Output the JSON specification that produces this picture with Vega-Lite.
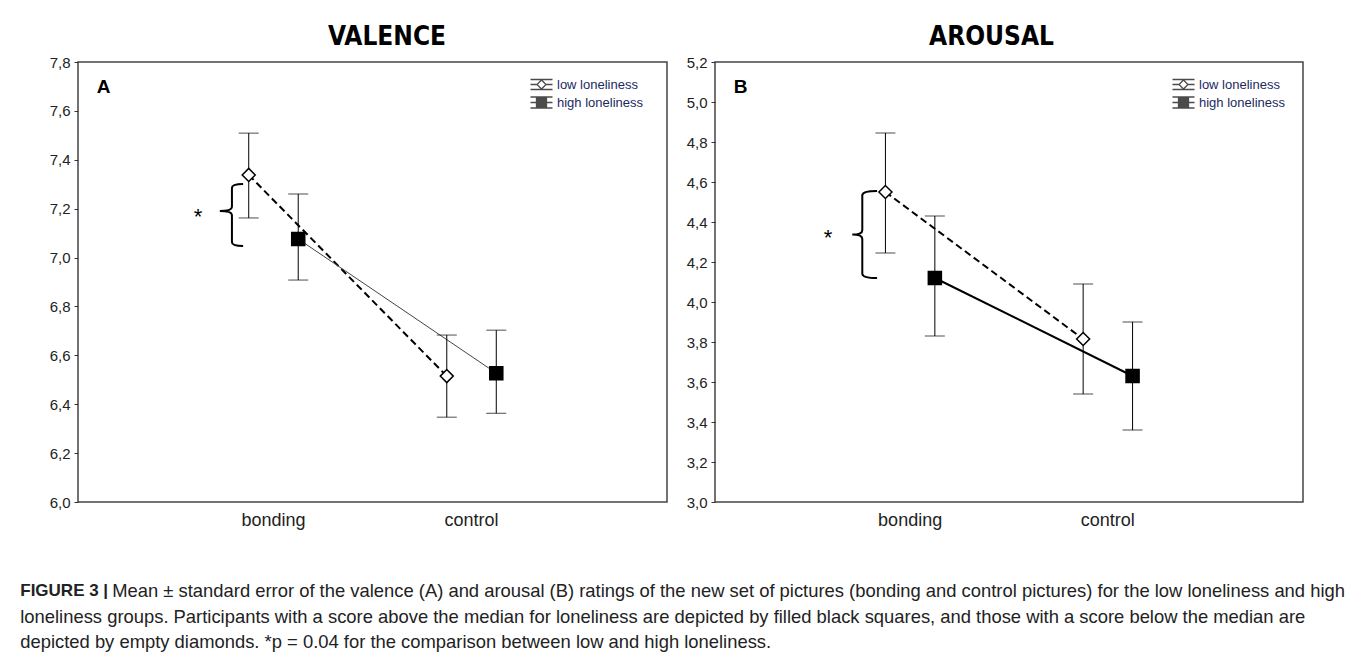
{
  "$schema": "https://vega.github.io/schema/vega-lite/v6.json",
  "padding": {"left": 8, "top": 23, "right": 0, "bottom": 0},
  "background": "white",
  "config": {
    "font": "Liberation Sans",
    "view": {"stroke": "#444", "strokeWidth": 1.5},
    "axis": {"grid": false, "domain": false, "labelFont": "Liberation Sans", "labelColor": "#222"},
    "axisY": {"labelExpr": "replace(format(datum.value, '.1f'), '.', ',')", "labelFontSize": 15, "tickSize": 4, "tickColor": "#333", "labelPadding": 4, "titleAngle": 0, "titleAlign": "center", "titleBaseline": "middle", "titleFontSize": 19, "titleFontWeight": "bold", "titleColor": "black", "titleX": 25, "titleY": 24},
    "axisX": {"labelFontSize": 18, "ticks": false, "labelPadding": 9, "labelAngle": 0},
    "legend": {"orient": "none", "title": null, "padding": 0, "symbolSize": 100, "labelFontSize": 13, "labelColor": "#1b2a5e", "labelOffset": 9, "rowPadding": 1, "symbolStrokeWidth": 1.3},
    "title": {"font": "DejaVu Sans Condensed", "fontSize": 26, "fontWeight": "bold", "color": "black", "baseline": "alphabetic", "offset": 5, "frame": "group"}
  },
  "datasets": {
    "means": [
      {"panel": "A", "cond": "bonding", "group": "low loneliness", "mean": 7.338, "lo": 7.162, "hi": 7.509},
      {"panel": "A", "cond": "bonding", "group": "high loneliness", "mean": 7.076, "lo": 6.908, "hi": 7.26},
      {"panel": "A", "cond": "control", "group": "low loneliness", "mean": 6.515, "lo": 6.347, "hi": 6.683},
      {"panel": "A", "cond": "control", "group": "high loneliness", "mean": 6.527, "lo": 6.363, "hi": 6.703},
      {"panel": "B", "cond": "bonding", "group": "low loneliness", "mean": 4.55, "lo": 4.245, "hi": 4.845},
      {"panel": "B", "cond": "bonding", "group": "high loneliness", "mean": 4.12, "lo": 3.83, "hi": 4.43},
      {"panel": "B", "cond": "control", "group": "low loneliness", "mean": 3.815, "lo": 3.54, "hi": 4.09},
      {"panel": "B", "cond": "control", "group": "high loneliness", "mean": 3.63, "lo": 3.36, "hi": 3.9}
    ],
    "notes": [
      {"panel": "A", "cond": "bonding", "brace": 7.174, "star": 7.186},
      {"panel": "B", "cond": "bonding", "brace": 4.3375, "star": 4.345}
    ]
  },
  "title": {
    "text": "FIGURE 3 |",
    "subtitle": [
      "\u200b\u00a0\u00a0\u00a0\u00a0\u00a0\u00a0\u00a0\u00a0\u00a0\u00a0\u00a0\u00a0\u00a0\u00a0\u00a0\u00a0\u00a0\u00a0Mean ± standard error of the valence (A) and arousal (B) ratings of the new set of pictures (bonding and control pictures) for the low loneliness and high",
      "loneliness groups. Participants with a score above the median for loneliness are depicted by filled black squares, and those with a score below the median are",
      "depicted by empty diamonds. *p = 0.04 for the comparison between low and high loneliness."
    ],
    "orient": "bottom",
    "anchor": "start",
    "frame": "bounds",
    "dx": 12,
    "offset": 53,
    "font": "Liberation Sans",
    "fontSize": 17,
    "fontWeight": "bold",
    "lineHeight": 25.5,
    "color": "#222",
    "baseline": "top",
    "subtitleFont": "Liberation Sans",
    "subtitleFontSize": 18.4,
    "subtitleColor": "#222",
    "subtitleLineHeight": 25.5,
    "subtitlePadding": -17.7
  },
  "spacing": 2,
  "resolve": {
    "scale": {"x": "independent", "y": "independent", "xOffset": "independent", "shape": "independent"},
    "legend": {"shape": "independent"}
  },
  "hconcat": [
    {
      "width": 589,
      "height": 440,
      "title": {"text": "VALENCE", "dx": 14.5},
      "encoding": {
        "x": {"field": "cond", "type": "nominal", "scale": {"type": "band", "domain": ["bonding", "control"], "paddingInner": 0, "paddingOuter": 0.487}, "axis": {"title": null}}
      },
      "layer": [
        {
          "data": {"name": "means"},
          "transform": [{"filter": "datum.panel === 'A'"}],
          "encoding": {
            "xOffset": {"field": "group", "type": "nominal", "scale": {"domain": ["low loneliness", "high loneliness"], "paddingInner": 0, "paddingOuter": 2.19}}
          },
          "layer": [
            {
              "transform": [{"filter": "datum.group === 'low loneliness'"}],
              "mark": {"type": "line", "color": "black", "strokeWidth": 2, "strokeDash": [7, 4]},
              "encoding": {
                "y": {"field": "mean", "type": "quantitative", "scale": {"domain": [6, 7.8], "nice": false, "zero": false}, "axis": {"title": "A", "tickCount": 10, "minExtent": 69, "maxExtent": 69}}
              }
            },
            {
              "transform": [{"filter": "datum.group === 'high loneliness'"}],
              "mark": {"type": "line", "color": "#444", "strokeWidth": 1},
              "encoding": {
                "y": {"field": "mean", "type": "quantitative", "axis": {"title": "A", "tickCount": 10, "minExtent": 69, "maxExtent": 69}}
              }
            },
            {
              "mark": {"type": "rule", "color": "black", "strokeWidth": 1},
              "encoding": {
                "y": {"field": "lo", "type": "quantitative", "axis": {"title": "A", "tickCount": 10, "minExtent": 69, "maxExtent": 69}},
                "y2": {"field": "hi"}
              }
            },
            {
              "mark": {"type": "tick", "color": "black", "size": 20, "thickness": 1},
              "encoding": {
                "y": {"field": "lo", "type": "quantitative", "axis": {"title": "A", "tickCount": 10, "minExtent": 69, "maxExtent": 69}}
              }
            },
            {
              "mark": {"type": "tick", "color": "black", "size": 20, "thickness": 1},
              "encoding": {
                "y": {"field": "hi", "type": "quantitative", "axis": {"title": "A", "tickCount": 10, "minExtent": 69, "maxExtent": 69}}
              }
            },
            {
              "transform": [{"filter": "datum.group === 'low loneliness'"}],
              "mark": {"type": "point", "shape": "diamond", "filled": true, "fill": "white", "stroke": "black", "strokeWidth": 1.5, "opacity": 1, "size": 170},
              "encoding": {
                "y": {"field": "mean", "type": "quantitative", "axis": {"title": "A", "tickCount": 10, "minExtent": 69, "maxExtent": 69}}
              }
            },
            {
              "transform": [{"filter": "datum.group === 'high loneliness'"}],
              "mark": {"type": "point", "shape": "square", "filled": true, "fill": "black", "stroke": "black", "strokeWidth": 1.5, "opacity": 1, "size": 170},
              "encoding": {
                "y": {"field": "mean", "type": "quantitative", "axis": {"title": "A", "tickCount": 10, "minExtent": 69, "maxExtent": 69}}
              }
            },
            {
              "mark": {"type": "point", "filled": false, "color": "black", "strokeWidth": 1.3, "size": 0},
              "encoding": {
                "y": {"field": "mean", "type": "quantitative", "axis": {"title": "A", "tickCount": 10, "minExtent": 69, "maxExtent": 69}},
                "shape": {"field": "group", "type": "nominal", "scale": {"domain": ["low loneliness", "high loneliness"], "range": ["M-2.2,-1L2.2,-1M-2.2,1L2.2,1M-2.2,0L-0.9,0M0.9,0L2.2,0M0,-0.9L0.9,0L0,0.9L-0.9,0Z", "M-2.2,-1.1L2.2,-1.1M-2.2,1.1L2.2,1.1M-2.2,0L2.2,0M-1,-1L1,-1M-1,-0.9L1,-0.9M-1,-0.8L1,-0.8M-1,-0.7L1,-0.7M-1,-0.6L1,-0.6M-1,-0.5L1,-0.5M-1,-0.4L1,-0.4M-1,-0.3L1,-0.3M-1,-0.2L1,-0.2M-1,-0.1L1,-0.1M-1,0.1L1,0.1M-1,0.2L1,0.2M-1,0.3L1,0.3M-1,0.4L1,0.4M-1,0.5L1,0.5M-1,0.6L1,0.6M-1,0.7L1,0.7M-1,0.8L1,0.8M-1,0.9L1,0.9M-1,1L1,1M-1,-1L-1,1M1,-1L1,1M-0.5,-1L-0.5,1M0,-1L0,1M0.5,-1L0.5,1"]},
                  "legend": {"legendX": 457, "legendY": 16}}
              }
            }
          ]
        },
        {
          "data": {"name": "notes"},
          "transform": [{"filter": "datum.panel === 'A'"}],
          "layer": [
            {
              "mark": {"type": "point", "shape": "M-0.98,-1 Q-1.34,-1 -1.34,-0.88 L-1.34,-0.26 Q-1.34,-0.13 -1.73,-0.13 Q-1.34,-0.13 -1.34,0 L-1.34,0.88 Q-1.34,1 -0.98,1", "size": 3844, "filled": false, "stroke": "black", "strokeWidth": 2, "opacity": 1},
              "encoding": {
                "y": {"field": "brace", "type": "quantitative", "axis": {"title": "A", "tickCount": 10, "minExtent": 69, "maxExtent": 69}}
              }
            },
            {
              "mark": {"type": "text", "text": "*", "fontSize": 22, "dx": -75.5, "dy": 5, "color": "black"},
              "encoding": {
                "y": {"field": "star", "type": "quantitative", "axis": {"title": "A", "tickCount": 10, "minExtent": 69, "maxExtent": 69}}
              }
            }
          ]
        }
      ]
    },
    {
      "width": 588,
      "height": 440,
      "title": {"text": "AROUSAL", "dx": -17.5},
      "encoding": {
        "x": {"field": "cond", "type": "nominal", "scale": {"type": "band", "domain": ["bonding", "control"], "paddingInner": 0, "paddingOuter": 0.487}, "axis": {"title": null}}
      },
      "layer": [
        {
          "data": {"name": "means"},
          "transform": [{"filter": "datum.panel === 'B'"}],
          "encoding": {
            "xOffset": {"field": "group", "type": "nominal", "scale": {"domain": ["low loneliness", "high loneliness"], "paddingInner": 0, "paddingOuter": 2.19}}
          },
          "layer": [
            {
              "transform": [{"filter": "datum.group === 'low loneliness'"}],
              "mark": {"type": "line", "color": "black", "strokeWidth": 2, "strokeDash": [7, 4]},
              "encoding": {
                "y": {"field": "mean", "type": "quantitative", "scale": {"domain": [3, 5.2], "nice": false, "zero": false}, "axis": {"title": "B", "tickCount": 11, "minExtent": 44, "maxExtent": 44}}
              }
            },
            {
              "transform": [{"filter": "datum.group === 'high loneliness'"}],
              "mark": {"type": "line", "color": "black", "strokeWidth": 2},
              "encoding": {
                "y": {"field": "mean", "type": "quantitative", "axis": {"title": "B", "tickCount": 11, "minExtent": 44, "maxExtent": 44}}
              }
            },
            {
              "mark": {"type": "rule", "color": "black", "strokeWidth": 1},
              "encoding": {
                "y": {"field": "lo", "type": "quantitative", "axis": {"title": "B", "tickCount": 11, "minExtent": 44, "maxExtent": 44}},
                "y2": {"field": "hi"}
              }
            },
            {
              "mark": {"type": "tick", "color": "black", "size": 20, "thickness": 1},
              "encoding": {
                "y": {"field": "lo", "type": "quantitative", "axis": {"title": "B", "tickCount": 11, "minExtent": 44, "maxExtent": 44}}
              }
            },
            {
              "mark": {"type": "tick", "color": "black", "size": 20, "thickness": 1},
              "encoding": {
                "y": {"field": "hi", "type": "quantitative", "axis": {"title": "B", "tickCount": 11, "minExtent": 44, "maxExtent": 44}}
              }
            },
            {
              "transform": [{"filter": "datum.group === 'low loneliness'"}],
              "mark": {"type": "point", "shape": "diamond", "filled": true, "fill": "white", "stroke": "black", "strokeWidth": 1.5, "opacity": 1, "size": 170},
              "encoding": {
                "y": {"field": "mean", "type": "quantitative", "axis": {"title": "B", "tickCount": 11, "minExtent": 44, "maxExtent": 44}}
              }
            },
            {
              "transform": [{"filter": "datum.group === 'high loneliness'"}],
              "mark": {"type": "point", "shape": "square", "filled": true, "fill": "black", "stroke": "black", "strokeWidth": 1.5, "opacity": 1, "size": 170},
              "encoding": {
                "y": {"field": "mean", "type": "quantitative", "axis": {"title": "B", "tickCount": 11, "minExtent": 44, "maxExtent": 44}}
              }
            },
            {
              "mark": {"type": "point", "filled": false, "color": "black", "strokeWidth": 1.3, "size": 0},
              "encoding": {
                "y": {"field": "mean", "type": "quantitative", "axis": {"title": "B", "tickCount": 11, "minExtent": 44, "maxExtent": 44}},
                "shape": {"field": "group", "type": "nominal", "scale": {"domain": ["low loneliness", "high loneliness"], "range": ["M-2.2,-1L2.2,-1M-2.2,1L2.2,1M-2.2,0L-0.9,0M0.9,0L2.2,0M0,-0.9L0.9,0L0,0.9L-0.9,0Z", "M-2.2,-1.1L2.2,-1.1M-2.2,1.1L2.2,1.1M-2.2,0L2.2,0M-1,-1L1,-1M-1,-0.9L1,-0.9M-1,-0.8L1,-0.8M-1,-0.7L1,-0.7M-1,-0.6L1,-0.6M-1,-0.5L1,-0.5M-1,-0.4L1,-0.4M-1,-0.3L1,-0.3M-1,-0.2L1,-0.2M-1,-0.1L1,-0.1M-1,0.1L1,0.1M-1,0.2L1,0.2M-1,0.3L1,0.3M-1,0.4L1,0.4M-1,0.5L1,0.5M-1,0.6L1,0.6M-1,0.7L1,0.7M-1,0.8L1,0.8M-1,0.9L1,0.9M-1,1L1,1M-1,-1L-1,1M1,-1L1,1M-0.5,-1L-0.5,1M0,-1L0,1M0.5,-1L0.5,1"]},
                  "legend": {"legendX": 462, "legendY": 16}}
              }
            }
          ]
        },
        {
          "data": {"name": "notes"},
          "transform": [{"filter": "datum.panel === 'B'"}],
          "layer": [
            {
              "mark": {"type": "point", "shape": "M-0.76,-1 Q-1.10,-1 -1.10,-0.9 L-1.10,-0.1 Q-1.10,0 -1.33,0 Q-1.10,0 -1.10,0.1 L-1.10,0.9 Q-1.10,1 -0.76,1", "size": 7569, "filled": false, "stroke": "black", "strokeWidth": 2, "opacity": 1},
              "encoding": {
                "y": {"field": "brace", "type": "quantitative", "axis": {"title": "B", "tickCount": 11, "minExtent": 44, "maxExtent": 44}}
              }
            },
            {
              "mark": {"type": "text", "text": "*", "fontSize": 22, "dx": -82, "dy": 5, "color": "black"},
              "encoding": {
                "y": {"field": "star", "type": "quantitative", "axis": {"title": "B", "tickCount": 11, "minExtent": 44, "maxExtent": 44}}
              }
            }
          ]
        }
      ]
    }
  ]
}
